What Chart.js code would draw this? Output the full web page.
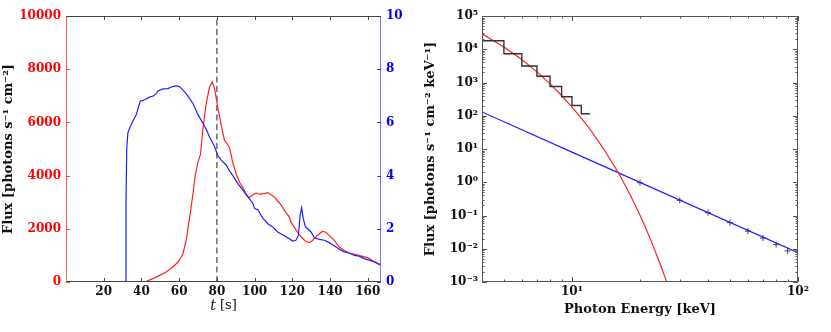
<!DOCTYPE html>
<html>
<head>
<meta charset="utf-8">
<script src="https://cdn.jsdelivr.net/npm/chart.js@4.4.1/dist/chart.umd.min.js"></script>
<style>
  html, body { margin: 0; padding: 0; background: #fff; }
  #wrap { position: relative; width: 831px; height: 332px; overflow: hidden; }
  #c1 { position: absolute; left: 0; top: 0; }
  #c2 { position: absolute; left: 415px; top: 0; }
</style>
</head>
<body>
<div id="wrap">
  <canvas id="c1" width="415" height="332"></canvas>
  <canvas id="c2" width="416" height="332"></canvas>
</div>
<script>
// ---------------- Left panel data (time profiles) ----------------
const blueTime = [31.3, 31.8, 32.2, 32.8, 33.8, 35.5, 37.3, 38.5, 39.4, 41.7, 44.3, 46.5, 47.9, 48.7, 51.4, 54.0, 55.8, 58.4, 60.2, 61.5, 63.7, 65.5, 67.3, 69.9, 72.5, 74.3, 76.1, 78.7, 80.5, 82.3, 84.9, 86.5, 88.4, 91.1, 93.8, 96.4, 99.0, 100.0, 101.7, 104.3, 107.0, 109.6, 112.2, 114.9, 117.5, 120.2, 121.9, 123.2, 124.1, 124.9, 125.8, 126.9, 128.1, 129.9, 131.7, 134.3, 137.0, 139.6, 142.2, 144.9, 147.5, 150.2, 152.8, 155.4, 158.1, 160.7, 163.4, 166.6];
const blueValue = [0, 3.0, 5.0, 5.6, 5.8, 6.05, 6.3, 6.6, 6.8, 6.85, 6.95, 7.0, 7.08, 7.18, 7.26, 7.27, 7.33, 7.38, 7.34, 7.25, 7.08, 6.9, 6.71, 6.3, 5.98, 5.75, 5.45, 5.1, 4.75, 4.58, 4.4, 4.2, 4.0, 3.7, 3.45, 3.2, 2.97, 2.76, 2.72, 2.4, 2.19, 2.07, 1.88, 1.78, 1.66, 1.54, 1.57, 1.75, 2.5, 2.79, 2.38, 2.07, 2.0, 1.88, 1.66, 1.6, 1.57, 1.48, 1.36, 1.23, 1.13, 1.09, 1.0, 0.97, 0.88, 0.82, 0.75, 0.64];
const redTime = [40.0, 42.6, 46.1, 49.6, 53.2, 56.7, 59.4, 61.1, 62.0, 63.7, 65.5, 67.3, 68.5, 69.9, 71.3, 72.5, 74.3, 76.1, 77.5, 78.7, 80.5, 82.3, 84.0, 85.8, 86.7, 88.4, 90.2, 92.0, 93.8, 95.5, 97.2, 99.0, 100.8, 102.6, 105.2, 107.0, 108.7, 110.5, 111.4, 114.0, 116.7, 118.4, 119.3, 122.0, 124.6, 127.2, 129.0, 130.7, 133.4, 135.8, 137.5, 139.6, 142.2, 144.9, 147.5, 150.2, 153.7, 157.2, 159.9, 162.6, 166.6];
const redFlux = [0, 25, 125, 250, 376, 564, 752, 940, 1065, 1566, 2400, 3300, 4000, 4500, 4800, 5700, 6700, 7330, 7520, 7300, 6550, 5900, 5330, 5150, 5050, 4500, 4070, 3750, 3550, 3300, 3170, 3280, 3340, 3300, 3320, 3360, 3280, 3200, 3120, 2900, 2600, 2450, 2250, 1950, 1700, 1520, 1480, 1560, 1760, 1900, 1880, 1754, 1566, 1316, 1180, 1090, 1028, 965, 915, 800, 660];
const markerTime = [80, 80];
const markerFlux = [0, 10000];
const timeTicks = [20, 40, 60, 80, 100, 120, 140, 160];
const fluxTicks = [0, 2000, 4000, 6000, 8000, 10000];
const ratioTicks = [0, 2, 4, 6, 8, 10];

// ---------------- Right panel data (spectrum) ----------------
const histEnergy = [4, 5, 6, 7, 8, 9, 10, 11, 12];
const histFlux = [18000, 7300, 3130, 1540, 760, 372, 204, 115, 115];
const thermalEnergy = [4, 5, 6, 7, 8, 9, 10, 11, 12, 13, 14, 15, 16, 17, 18, 19, 20, 21, 22, 23, 24, 25, 26, 27];
const thermalFlux = [29400, 11750, 4900, 2090, 912, 407, 182, 85, 40, 18.2, 8.7, 4.07, 2.0, 0.93, 0.45, 0.21, 0.102, 0.049, 0.023, 0.011, 0.0052, 0.0025, 0.0012, 0.00058];
const powerEnergy = [4, 10, 100];
const powerFlux = [130, 8.05, 0.0076];
const pointEnergy = [20, 30, 40, 50, 60, 70, 80, 90];
const pointFlux = [0.97, 0.286, 0.122, 0.061, 0.034, 0.021, 0.0133, 0.0086];
const energyTicks = [10, 100];
const energyTickLabels = ['10¹', '10²'];
const energyMinor = [5, 6, 7, 8, 9, 20, 30, 40, 50, 60, 70, 80, 90];
const specTicks = [1e-3, 1e-2, 1e-1, 1, 10, 100, 1e3, 1e4, 1e5];
const specTickLabels = ['10⁻³', '10⁻²', '10⁻¹', '10⁰', '10¹', '10²', '10³', '10⁴', '10⁵'];

const SERIF = "'DejaVu Serif', 'Liberation Serif', serif";
const pts = (xs, ys) => xs.map((x, i) => ({ x: x, y: ys[i] }));
const setTicks = arr => (s => { s.ticks = arr.map(v => ({ value: v })); });

// minor ticks for log flux axis
const specMinor = [];
for (let e = -3; e < 5; e++) for (let m = 2; m <= 9; m++) specMinor.push(m * Math.pow(10, e));

// frame + inward ticks plugin (+ optional mixed-style x title)
const framePlugin = {
  id: 'frame',
  afterDatasetsDraw(chart, args, opts) {
    const { ctx, chartArea } = chart;
    const { left, right, top, bottom } = chartArea;
    ctx.save();
    ctx.lineWidth = 1;
    for (const t of (opts.ticks || [])) {
      const sc = chart.scales[t.scale];
      ctx.strokeStyle = t.color;
      ctx.beginPath();
      for (const v of t.values) {
        const p = Math.round(sc.getPixelForValue(v)) + 0.5;
        for (const side of t.sides) {
          if (side === 'bottom') { ctx.moveTo(p, bottom); ctx.lineTo(p, bottom - t.len); }
          if (side === 'top') { ctx.moveTo(p, top); ctx.lineTo(p, top + t.len); }
          if (side === 'left') { ctx.moveTo(left, p); ctx.lineTo(left + t.len, p); }
          if (side === 'right') { ctx.moveTo(right, p); ctx.lineTo(right - t.len, p); }
        }
      }
      ctx.stroke();
    }
    const sp = opts.spines;
    const L = Math.round(left) + 0.5, R = Math.round(right) - 0.5, T = Math.round(top) + 0.5, B = Math.round(bottom) - 0.5;
    const seg = (c, x1, y1, x2, y2) => { ctx.strokeStyle = c; ctx.beginPath(); ctx.moveTo(x1, y1); ctx.lineTo(x2, y2); ctx.stroke(); };
    seg(sp.top, L, T, R, T);
    seg(sp.bottom, L, B, R, B);
    seg(sp.left, L, T, L, B);
    seg(sp.right, R, T, R, B);
    if (opts.xTitle) {
      const parts = opts.xTitle.parts;
      ctx.fillStyle = '#111';
      ctx.textBaseline = 'middle';
      ctx.textAlign = 'left';
      let total = 0;
      for (const p of parts) { ctx.font = p.font; total += ctx.measureText(p.text).width; }
      let x = (left + right) / 2 - total / 2;
      for (const p of parts) { ctx.font = p.font; ctx.fillText(p.text, x, opts.xTitle.y); x += ctx.measureText(p.text).width; }
    }
    ctx.restore();
  }
};

const tickFont = { family: SERIF, weight: 'bold', size: 12 };
const titleFont = { family: SERIF, weight: 'bold', size: 13 };
const noGrid = { display: false, drawTicks: false };

// ---------------- Left chart ----------------
new Chart(document.getElementById('c1'), {
  type: 'line',
  data: {
    datasets: [
      { data: pts(blueTime, blueValue), yAxisID: 'y2', borderColor: '#1f1fff', borderWidth: 1.2, pointRadius: 0, tension: 0 },
      { data: pts(redTime, redFlux), yAxisID: 'y', borderColor: '#ff2020', borderWidth: 1.2, pointRadius: 0, tension: 0 },
      { data: pts(markerTime, markerFlux), yAxisID: 'y', borderColor: '#444', borderWidth: 1.2, borderDash: [6, 3.5], pointRadius: 0 }
    ]
  },
  options: {
    responsive: false, animation: false, devicePixelRatio: 1,
    layout: { padding: { top: 16, left: 0, right: 0, bottom: 0 } },
    plugins: {
      legend: { display: false }, tooltip: { enabled: false },
      frame: {
        spines: { top: '#444', bottom: '#444', left: 'rgba(255,0,0,0.6)', right: 'rgba(0,0,255,0.55)' },
        ticks: [
          { scale: 'x', values: timeTicks, sides: ['bottom', 'top'], len: 4, color: '#444' },
          { scale: 'y', values: fluxTicks, sides: ['left'], len: 4, color: '#ff4040' },
          { scale: 'y2', values: ratioTicks, sides: ['right'], len: 4, color: '#4040ff' }
        ],
        xTitle: { y: 306, parts: [
          { text: 't', font: "italic 14px 'DejaVu Serif', serif" },
          { text: ' [s]', font: "13px 'DejaVu Serif', serif" }
        ] }
      }
    },
    scales: {
      x: {
        type: 'linear', position: 'bottom', min: 0, max: 167,
        afterBuildTicks: setTicks(timeTicks),
        afterFit: s => { s.height = 50; },
        grid: noGrid, border: { display: false },
        ticks: { color: '#111', font: tickFont, padding: 3, maxRotation: 0, autoSkip: false, callback: v => String(v) }
      },
      y: {
        type: 'linear', position: 'left', min: 0, max: 10000,
        afterBuildTicks: setTicks(fluxTicks),
        afterFit: s => { s.width = 66; },
        grid: noGrid, border: { display: false },
        ticks: { color: '#ff0000', font: tickFont, padding: 5, callback: v => String(v) },
        title: { display: true, text: 'Flux [photons s⁻¹ cm⁻²]', color: '#111', font: titleFont, padding: { top: 1, bottom: 0 } }
      },
      y2: {
        type: 'linear', position: 'right', min: 0, max: 10,
        afterBuildTicks: setTicks(ratioTicks),
        afterFit: s => { s.width = 34; },
        grid: noGrid, border: { display: false },
        ticks: { color: '#0000ff', font: tickFont, padding: 5, callback: v => String(v) }
      }
    }
  },
  plugins: [framePlugin]
});

// ---------------- Right chart ----------------
new Chart(document.getElementById('c2'), {
  type: 'line',
  data: {
    datasets: [
      { data: pts(histEnergy, histFlux), borderColor: '#333', borderWidth: 1.4, pointRadius: 0, stepped: 'before' },
      { data: pts(thermalEnergy, thermalFlux), borderColor: '#ff2020', borderWidth: 1.2, pointRadius: 0, tension: 0 },
      { data: pts(powerEnergy, powerFlux), borderColor: '#1f1fff', borderWidth: 1.2, pointRadius: 0 },
      { data: pts(pointEnergy, pointFlux), showLine: false, pointStyle: 'cross', pointRadius: 3, borderColor: '#444', borderWidth: 1 }
    ]
  },
  options: {
    responsive: false, animation: false, devicePixelRatio: 1,
    layout: { padding: { top: 16, left: 0, right: 33, bottom: 0 } },
    plugins: {
      legend: { display: false }, tooltip: { enabled: false },
      frame: {
        spines: { top: '#555', bottom: '#555', left: '#555', right: '#555' },
        ticks: [
          { scale: 'x', values: energyTicks, sides: ['bottom', 'top'], len: 5, color: '#555' },
          { scale: 'x', values: energyMinor, sides: ['bottom', 'top'], len: 2.5, color: '#555' },
          { scale: 'y', values: specTicks, sides: ['left', 'right'], len: 5, color: '#555' },
          { scale: 'y', values: specMinor, sides: ['left', 'right'], len: 2.5, color: '#555' }
        ]
      }
    },
    scales: {
      x: {
        type: 'logarithmic', position: 'bottom', min: 4, max: 100,
        afterBuildTicks: setTicks(energyTicks),
        afterFit: s => { s.height = 50; },
        grid: noGrid, border: { display: false },
        ticks: { color: '#111', font: tickFont, padding: 3, maxRotation: 0, autoSkip: false,
          callback: v => energyTickLabels[energyTicks.indexOf(v)] },
        title: { display: true, text: 'Photon Energy [keV]', color: '#111', font: titleFont, padding: { top: 0, bottom: 15 } }
      },
      y: {
        type: 'logarithmic', position: 'left', min: 1e-3, max: 1e5,
        afterBuildTicks: setTicks(specTicks),
        afterFit: s => { s.width = 67; },
        grid: noGrid, border: { display: false },
        ticks: { color: '#111', font: tickFont, padding: 4, autoSkip: false,
          callback: v => specTickLabels[specTicks.findIndex(t => Math.abs(Math.log10(t) - Math.log10(v)) < 1e-6)] },
        title: { display: true, text: 'Flux [photons s⁻¹ cm⁻² keV⁻¹]', color: '#111', font: titleFont, padding: { top: 8, bottom: 0 } }
      }
    }
  },
  plugins: [framePlugin]
});
</script>
</body>
</html>
